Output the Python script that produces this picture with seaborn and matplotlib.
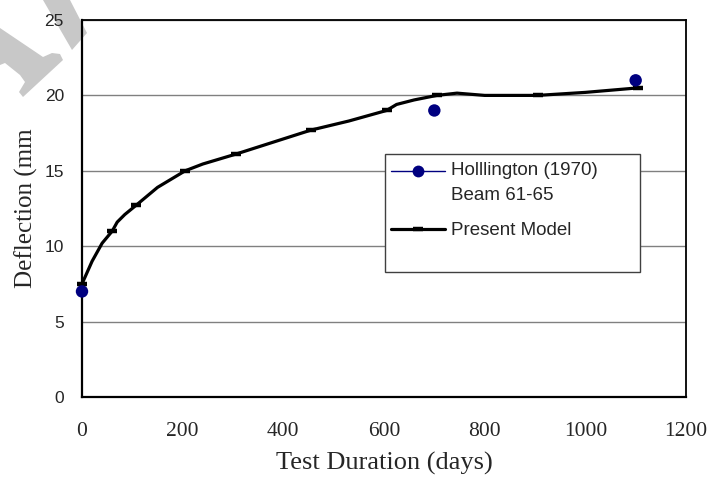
import matplotlib
matplotlib.use("Agg")
import matplotlib.pyplot as plt
from matplotlib.patches import Polygon, Rectangle
from matplotlib.lines import Line2D
import seaborn as sns
import pandas as pd

# ---- data ----
model_days = [0, 20, 40, 60, 70, 85, 107, 150, 205, 240, 305, 380, 455, 530, 605,
              625, 660, 705, 745, 800, 905, 1000, 1105]
model_defl = [7.5, 9.0, 10.2, 11.0, 11.6, 12.1, 12.7, 13.9, 15.0, 15.45, 16.1, 16.9,
              17.7, 18.3, 19.0, 19.4, 19.7, 20.0, 20.15, 20.0, 20.0, 20.2, 20.5]
marker_days = [0, 60, 107, 205, 305, 455, 605, 705, 905, 1105]
marker_defl = [7.5, 11.0, 12.7, 15.0, 16.1, 17.7, 19.0, 20.0, 20.0, 20.5]
obs_days = [0, 700, 1100]
obs_defl = [7.0, 19.0, 21.0]
x_ticks = [0, 200, 400, 600, 800, 1000, 1200]
y_ticks = [0, 5, 10, 15, 20, 25]
obs_label = "Holllington (1970)\nBeam 61-65"
model_label = "Present Model"

sns.set_style("white")
plt.rcParams["font.family"] = ["Liberation Sans", "DejaVu Sans"]

W, H = 710, 478
fig = plt.figure(figsize=(W / 100, H / 100), dpi=100)
fig.patch.set_facecolor("white")

# watermark fragments (figure pixel coords)
def fpoly(pts, **kw):
    p = Polygon([(x / W, 1 - y / H) for x, y in pts], closed=True,
                transform=fig.transFigure, **kw)
    fig.add_artist(p)
    p.set_zorder(0)

fpoly([(43, 0), (70, 0), (87, 33), (72, 50)], facecolor="#c8c8c8", edgecolor="none")
fpoly([(0, 28), (43, 57), (52, 53), (60, 54), (63, 60), (23, 97), (19, 92),
       (25, 82), (20, 75), (5, 63), (0, 65)], facecolor="#c8c8c8", edgecolor="none")

ax = fig.add_axes([82 / W, 1 - 397 / H, 604 / W, 377 / H])
ax.set_facecolor("none")

model_df = pd.DataFrame({"days": model_days, "defl": model_defl})
obs_df = pd.DataFrame({"days": obs_days, "defl": obs_defl})

sns.lineplot(data=model_df, x="days", y="defl", ax=ax, color="black",
             linewidth=2.3, sort=False, estimator=None, zorder=3)
ax.plot(marker_days, marker_defl, linestyle="none", marker="_", color="black",
        markersize=7, markeredgewidth=3.2, zorder=4, clip_on=False)
sns.scatterplot(data=obs_df, x="days", y="defl", ax=ax, color="#000080",
                s=80, edgecolor="none", zorder=5, clip_on=False)

ax.set_xlim(0, 1200)
ax.set_ylim(0, 25)
ax.set_xticks(x_ticks)
ax.set_yticks(y_ticks)
ax.set_xticklabels([str(v) for v in x_ticks], fontfamily="Liberation Serif", fontsize=15.5)
ax.set_yticklabels([str(v) for v in y_ticks], fontfamily="Liberation Sans", fontsize=12.5)
ax.tick_params(axis="x", direction="out", length=6, width=1.3, pad=12, color="black")
ax.tick_params(axis="y", direction="out", length=6, width=1.0, pad=7, color="black")

ax.grid(axis="y", color="#808080", linewidth=1.0)
ax.grid(axis="x", visible=False)
ax.set_axisbelow(True)
for side in ["left", "bottom"]:
    ax.spines[side].set_linewidth(1.6)
    ax.spines[side].set_color("black")
for side in ["top", "right"]:
    ax.spines[side].set_linewidth(1.3)
    ax.spines[side].set_color("black")
    ax.spines[side].set_visible(True)

ax.set_xlabel("Test Duration (days)", fontfamily="Liberation Serif", fontsize=19, labelpad=8)
ax.set_ylabel("Deflection (mm", fontfamily="Liberation Serif", fontsize=18, labelpad=5)

# legend box
ax.add_patch(Rectangle((0.502, 0.3316), 0.422, 0.313, transform=ax.transAxes,
                       facecolor="white", edgecolor="#404040", linewidth=1.0, zorder=6))
handles = [
    Line2D([], [], color="#000080", linewidth=1.0, marker="o", markersize=8.5,
           markeredgecolor="none"),
    Line2D([], [], color="black", linewidth=2.3, marker="_", markersize=7,
           markeredgewidth=3.2),
]
leg = ax.legend(handles, [obs_label, model_label], loc="upper left",
                bbox_to_anchor=(0.511, 0.624), frameon=False,
                prop={"family": "Liberation Sans", "size": 13.5},
                handlelength=2.9, handletextpad=0.3, labelspacing=1.0,
                borderaxespad=0.0, borderpad=0.0)
for t in leg.get_texts():
    t.set_linespacing(1.6)
# put the first handle level with the first text line
h0 = leg.legend_handles[0]
h0.set_ydata([y + 8.6 for y in h0.get_ydata()])
leg.set_zorder(7)

fig.savefig("out.png", dpi=100, facecolor="white")
